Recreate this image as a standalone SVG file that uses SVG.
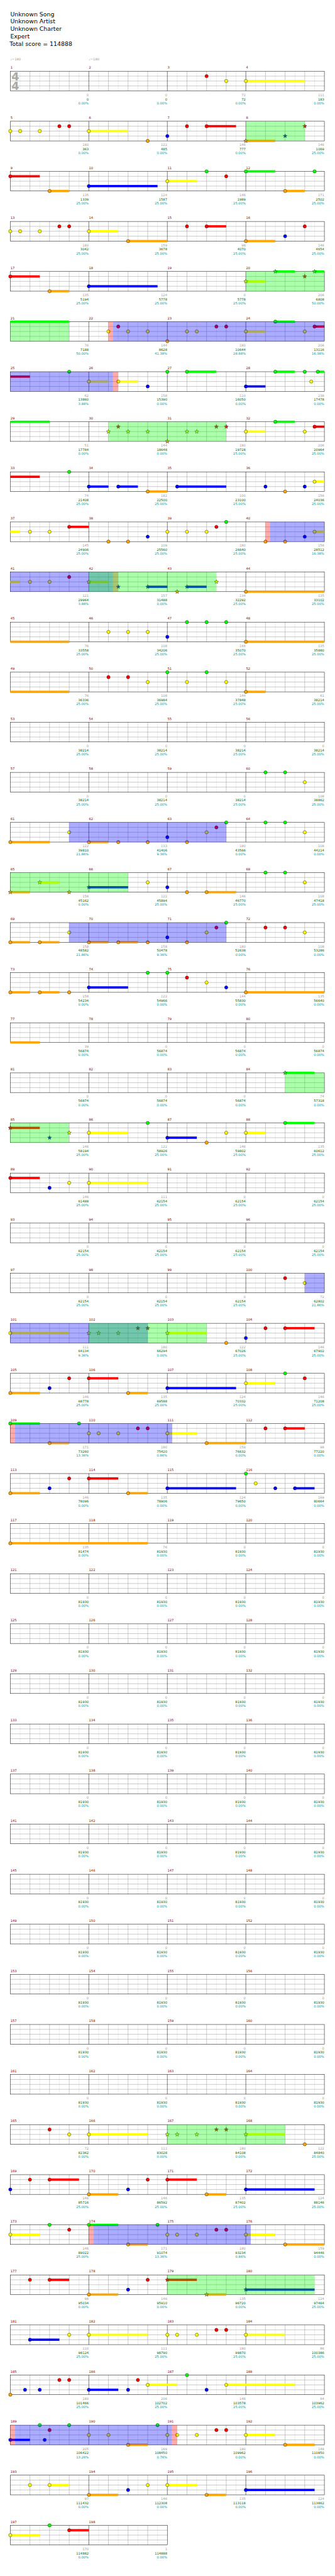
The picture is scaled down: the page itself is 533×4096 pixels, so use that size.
<svg xmlns="http://www.w3.org/2000/svg" width="533" height="4096" viewBox="0 0 533 4096">
<style>
text{font-family:"DejaVu Sans","Liberation Sans",sans-serif}
.hd{font-size:18px;fill:#000}
.lb{font-size:10px;fill:#8b0000}
.tp{font-size:10px;fill:#999}
.ts{font-size:34px;font-weight:bold;fill:#aaa}
.sc text{font-size:10px;text-anchor:end}
.a{fill:#999}.c{fill:#006400}.p{fill:#009999}
.l1{stroke:#ddd;fill:none}.l2{stroke:#999;fill:none}.l3{stroke:#000;fill:none}
.bd{fill:none;stroke:#000}
circle,.st{stroke:#000;stroke-width:.8}
.g{fill:#0f0}.r{fill:#f00}.y{fill:#ff0}.b{fill:#00f}.o{fill:#ffa500}
.sp{fill:#0f0;fill-opacity:.33}.ac{fill:#00f;fill-opacity:.33}.pk{fill:#f00;fill-opacity:.33}
</style>
<defs>
<path id="st" d="M0-6.5L1.53-2.1L6.18-2.01L2.47.8L3.82 5.26L0 2.6L-3.82 5.26L-2.47.8L-6.18-2.01L-1.53-2.1Z"/>
<g id="row">
<path class="l1" d="M30 0V60M90 0V60M150 0V60M210 0V60M270 0V60M330 0V60M390 0V60M450 0V60M510 0V60M570 0V60M630 0V60M690 0V60M750 0V60M810 0V60M870 0V60M930 0V60"/>
<path class="l2" d="M60 0V60M120 0V60M180 0V60M300 0V60M360 0V60M420 0V60M540 0V60M600 0V60M660 0V60M780 0V60M840 0V60M900 0V60M0 15H960M0 30H960M0 45H960"/>
<path class="l3" d="M240 0V60M480 0V60M720 0V60"/>
<rect class="bd" x="0" y="0" width="960" height="60"/>
</g>
<g id="row2">
<path class="l1" d="M30 0V60M90 0V60M150 0V60M210 0V60M270 0V60M330 0V60M390 0V60M450 0V60"/>
<path class="l2" d="M60 0V60M120 0V60M180 0V60M300 0V60M360 0V60M420 0V60M0 15H480M0 30H480M0 45H480"/>
<path class="l3" d="M240 0V60"/>
<rect class="bd" x="0" y="0" width="480" height="60"/>
</g>
<g id="z81930" class="sc">
<text class="a" x="239.5" y="76">0<tspan class="c" x="239.5" y="89">81930</tspan><tspan class="p" x="239.5" y="101">0.00%</tspan></text>
<text class="a" x="479.5" y="76">0<tspan class="c" x="479.5" y="89">81930</tspan><tspan class="p" x="479.5" y="101">0.00%</tspan></text>
<text class="a" x="719.5" y="76">0<tspan class="c" x="719.5" y="89">81930</tspan><tspan class="p" x="719.5" y="101">0.00%</tspan></text>
<text class="a" x="959.5" y="76">0<tspan class="c" x="959.5" y="89">81930</tspan><tspan class="p" x="959.5" y="101">0.00%</tspan></text>
</g>
</defs>
<rect width="533" height="4096" fill="#fff"/>
<g transform="scale(0.5205)">
<g id="header">
<text class="hd" x="31.5" y="49">Unknown Song</text>
<text class="hd" x="31.5" y="72">Unknown Artist</text>
<text class="hd" x="31.5" y="95">Unknown Charter</text>
<text class="hd" x="31.5" y="118">Expert</text>
<text class="hd" x="29.5" y="141">Total score = 114888</text>
</g>

<g id="r0" transform="translate(31.5,217.5)">
<use href="#row"/>
<text class="ts" x="3.5" y="27.5">4</text><text class="ts" x="3.5" y="57.5">4</text>
<text class="tp" y="-33"><tspan x="0">♩=180</tspan><tspan x="240">♩=180</tspan></text>
<text class="lb" y="-7.5"><tspan x="0.5">1</tspan><tspan x="240.5">2</tspan><tspan x="480.5">3</tspan><tspan x="720.5">4</tspan></text>
<rect class="y" x="720" y="26.5" width="180" height="7"/>
<circle class="r" cx="600" cy="15" r="5"/><circle class="y" cx="660" cy="30" r="5"/><circle class="y" cx="720" cy="30" r="5"/>
<g class="sc">
<text class="a" x="239.5" y="76">0<tspan class="c" x="239.5" y="89">0</tspan><tspan class="p" x="239.5" y="101">0.00%</tspan></text>
<text class="a" x="479.5" y="76">0<tspan class="c" x="479.5" y="89">0</tspan><tspan class="p" x="479.5" y="101">0.00%</tspan></text>
<text class="a" x="719.5" y="76">72<tspan class="c" x="719.5" y="89">72</tspan><tspan class="p" x="719.5" y="101">0.00%</tspan></text>
<text class="a" x="959.5" y="76">111<tspan class="c" x="959.5" y="89">183</tspan><tspan class="p" x="959.5" y="101">0.00%</tspan></text>
</g>
</g>

<g id="r1" transform="translate(31.5,370.5)">
<use href="#row"/>
<text class="lb" y="-7.5"><tspan x="0.5">5</tspan><tspan x="240.5">6</tspan><tspan x="480.5">7</tspan><tspan x="720.5">8</tspan></text>
<rect class="y" x="240" y="26.5" width="120" height="7"/><rect class="r" x="600" y="11.5" width="90" height="7"/><rect class="o" x="720" y="56.5" width="90" height="7"/>
<circle class="y" cx="0" cy="30" r="5"/><circle class="y" cx="30" cy="30" r="5"/><circle class="y" cx="90" cy="30" r="5"/><circle class="r" cx="150" cy="15" r="5"/><circle class="r" cx="180" cy="15" r="5"/><circle class="y" cx="240" cy="30" r="5"/><circle class="o" cx="420" cy="60" r="5"/><circle class="b" cx="480" cy="45" r="5"/><circle class="r" cx="540" cy="15" r="5"/><circle class="r" cx="600" cy="15" r="5"/>
<use href="#st" class="st o" x="720" y="60"/><use href="#st" class="st b" x="840" y="45"/><use href="#st" class="st r" x="900" y="15"/>
<rect class="sp" x="720" y="0" width="180" height="60"/>
<g class="sc">
<text class="a" x="239.5" y="76">180<tspan class="c" x="239.5" y="89">363</tspan><tspan class="p" x="239.5" y="101">0.00%</tspan></text>
<text class="a" x="479.5" y="76">122<tspan class="c" x="479.5" y="89">485</tspan><tspan class="p" x="479.5" y="101">0.00%</tspan></text>
<text class="a" x="719.5" y="76">146<tspan class="c" x="719.5" y="89">777</tspan><tspan class="p" x="719.5" y="101">0.00%</tspan></text>
<text class="a" x="959.5" y="76">146<tspan class="c" x="959.5" y="89">1069</tspan><tspan class="p" x="959.5" y="101">25.00%</tspan></text>
</g>
</g>

<g id="r2" transform="translate(31.5,523.5)">
<use href="#row"/>
<text class="lb" y="-7.5"><tspan x="0.5">9</tspan><tspan x="240.5">10</tspan><tspan x="480.5">11</tspan><tspan x="720.5">12</tspan></text>
<rect class="r" x="0" y="11.5" width="90" height="7"/><rect class="o" x="120" y="56.5" width="60" height="7"/><rect class="b" x="240" y="41.5" width="210" height="7"/><rect class="y" x="480" y="26.5" width="90" height="7"/><rect class="g" x="720" y="-3.5" width="90" height="7"/><rect class="o" x="840" y="56.5" width="60" height="7"/>
<circle class="r" cx="0" cy="15" r="5"/><circle class="o" cx="120" cy="60" r="5"/><circle class="b" cx="240" cy="45" r="5"/><circle class="y" cx="480" cy="30" r="5"/><circle class="g" cx="600" cy="0" r="5"/><circle class="r" cx="660" cy="15" r="5"/><circle class="g" cx="720" cy="0" r="5"/><circle class="o" cx="840" cy="60" r="5"/><circle class="g" cx="930" cy="0" r="5"/>
<g class="sc">
<text class="a" x="239.5" y="76">135<tspan class="c" x="239.5" y="89">1339</tspan><tspan class="p" x="239.5" y="101">25.00%</tspan></text>
<text class="a" x="479.5" y="76">124<tspan class="c" x="479.5" y="89">1587</tspan><tspan class="p" x="479.5" y="101">25.00%</tspan></text>
<text class="a" x="719.5" y="76">146<tspan class="c" x="719.5" y="89">1989</tspan><tspan class="p" x="719.5" y="101">25.00%</tspan></text>
<text class="a" x="959.5" y="76">171<tspan class="c" x="959.5" y="89">2502</tspan><tspan class="p" x="959.5" y="101">25.00%</tspan></text>
</g>
</g>

<g id="r3" transform="translate(31.5,676.5)">
<use href="#row"/>
<text class="lb" y="-7.5"><tspan x="0.5">13</tspan><tspan x="240.5">14</tspan><tspan x="480.5">15</tspan><tspan x="720.5">16</tspan></text>
<rect class="y" x="240" y="26.5" width="90" height="7"/><rect class="o" x="360" y="56.5" width="120" height="7"/><rect class="r" x="600" y="11.5" width="60" height="7"/><rect class="o" x="720" y="56.5" width="90" height="7"/>
<circle class="y" cx="0" cy="30" r="5"/><circle class="y" cx="30" cy="30" r="5"/><circle class="y" cx="90" cy="30" r="5"/><circle class="r" cx="150" cy="15" r="5"/><circle class="r" cx="180" cy="15" r="5"/><circle class="y" cx="240" cy="30" r="5"/><circle class="o" cx="360" cy="60" r="5"/><circle class="r" cx="540" cy="15" r="5"/><circle class="r" cx="600" cy="15" r="5"/><circle class="o" cx="720" cy="60" r="5"/><circle class="b" cx="840" cy="45" r="5"/><circle class="r" cx="900" cy="15" r="5"/>
<g class="sc">
<text class="a" x="239.5" y="76">180<tspan class="c" x="239.5" y="89">3042</tspan><tspan class="p" x="239.5" y="101">25.00%</tspan></text>
<text class="a" x="479.5" y="76">159<tspan class="c" x="479.5" y="89">3678</tspan><tspan class="p" x="479.5" y="101">25.00%</tspan></text>
<text class="a" x="719.5" y="76">98<tspan class="c" x="719.5" y="89">4070</tspan><tspan class="p" x="719.5" y="101">25.00%</tspan></text>
<text class="a" x="959.5" y="76">146<tspan class="c" x="959.5" y="89">4654</tspan><tspan class="p" x="959.5" y="101">25.00%</tspan></text>
</g>
</g>

<g id="r4" transform="translate(31.5,829.5)">
<use href="#row"/>
<text class="lb" y="-7.5"><tspan x="0.5">17</tspan><tspan x="240.5">18</tspan><tspan x="480.5">19</tspan><tspan x="720.5">20</tspan></text>
<rect class="r" x="0" y="11.5" width="90" height="7"/><rect class="o" x="120" y="56.5" width="60" height="7"/><rect class="b" x="240" y="41.5" width="210" height="7"/><rect class="y" x="720" y="26.5" width="60" height="7"/><rect class="g" x="810" y="-3.5" width="60" height="7"/><rect class="g" x="930" y="-3.5" width="30" height="7"/>
<circle class="r" cx="0" cy="15" r="5"/><circle class="o" cx="120" cy="60" r="5"/><circle class="b" cx="240" cy="45" r="5"/>
<use href="#st" class="st y" x="720" y="30"/><use href="#st" class="st g" x="810" y="0"/><use href="#st" class="st r" x="900" y="15"/><use href="#st" class="st g" x="930" y="0"/>
<rect class="sp" x="720" y="0" width="240" height="60"/>
<g class="sc">
<text class="a" x="239.5" y="76">135<tspan class="c" x="239.5" y="89">5194</tspan><tspan class="p" x="239.5" y="101">25.00%</tspan></text>
<text class="a" x="479.5" y="76">124<tspan class="c" x="479.5" y="89">5778</tspan><tspan class="p" x="479.5" y="101">25.00%</tspan></text>
<text class="a" x="719.5" y="76">0<tspan class="c" x="719.5" y="89">5778</tspan><tspan class="p" x="719.5" y="101">25.00%</tspan></text>
<text class="a" x="959.5" y="76">206<tspan class="c" x="959.5" y="89">6808</tspan><tspan class="p" x="959.5" y="101">50.00%</tspan></text>
</g>
</g>

<g id="r5" transform="translate(31.5,982.5)">
<use href="#row"/>
<text class="lb" y="-7.5"><tspan x="0.5">21</tspan><tspan x="240.5">22</tspan><tspan x="480.5">23</tspan><tspan x="720.5">24</tspan></text>
<rect class="g" x="0" y="-3.5" width="180" height="7"/><rect class="y" x="720" y="26.5" width="60" height="7"/><rect class="g" x="810" y="-3.5" width="60" height="7"/><rect class="r" x="930" y="11.5" width="30" height="7"/>
<circle class="y" cx="300" cy="30" r="5"/><circle class="r" cx="330" cy="15" r="5"/><circle class="y" cx="360" cy="30" r="5"/><circle class="y" cx="420" cy="30" r="5"/><circle class="o" cx="480" cy="60" r="5"/><circle class="y" cx="540" cy="30" r="5"/><circle class="y" cx="570" cy="30" r="5"/><circle class="r" cx="630" cy="15" r="5"/><circle class="r" cx="660" cy="15" r="5"/><circle class="y" cx="720" cy="30" r="5"/><circle class="g" cx="810" cy="0" r="5"/><circle class="y" cx="900" cy="30" r="5"/><circle class="r" cx="930" cy="15" r="5"/>
<rect class="sp" x="0" y="0" width="180" height="60"/><rect class="pk" x="300" y="0" width="14" height="60"/><rect class="ac" x="314" y="0" width="646" height="60"/>
<g class="sc">
<text class="a" x="239.5" y="76">76<tspan class="c" x="239.5" y="89">7188</tspan><tspan class="p" x="239.5" y="101">50.00%</tspan></text>
<text class="a" x="479.5" y="76">144<tspan class="c" x="479.5" y="89">8628</tspan><tspan class="p" x="479.5" y="101">41.38%</tspan></text>
<text class="a" x="719.5" y="76">180<tspan class="c" x="719.5" y="89">10644</tspan><tspan class="p" x="719.5" y="101">28.88%</tspan></text>
<text class="a" x="959.5" y="76">206<tspan class="c" x="959.5" y="89">13116</tspan><tspan class="p" x="959.5" y="101">16.38%</tspan></text>
</g>
</g>

<g id="r6" transform="translate(31.5,1135.5)">
<use href="#row"/>
<text class="lb" y="-7.5"><tspan x="0.5">25</tspan><tspan x="240.5">26</tspan><tspan x="480.5">27</tspan><tspan x="720.5">28</tspan></text>
<rect class="r" x="0" y="11.5" width="60" height="7"/><rect class="y" x="240" y="26.5" width="60" height="7"/><rect class="y" x="330" y="26.5" width="60" height="7"/><rect class="g" x="540" y="-3.5" width="90" height="7"/><rect class="b" x="720" y="41.5" width="60" height="7"/><rect class="g" x="810" y="-3.5" width="60" height="7"/><rect class="g" x="940" y="-3.5" width="20" height="7"/>
<circle class="g" cx="180" cy="0" r="5"/><circle class="y" cx="240" cy="30" r="5"/><circle class="y" cx="330" cy="30" r="5"/><circle class="b" cx="420" cy="45" r="5"/><circle class="g" cx="480" cy="0" r="5"/><circle class="g" cx="540" cy="0" r="5"/><circle class="b" cx="720" cy="45" r="5"/><circle class="g" cx="810" cy="0" r="5"/><circle class="g" cx="900" cy="0" r="5"/><circle class="y" cx="920" cy="30" r="5"/><circle class="g" cx="940" cy="0" r="5"/>
<rect class="ac" x="0" y="0" width="314" height="60"/><rect class="pk" x="314" y="0" width="16" height="60"/>
<g class="sc">
<text class="a" x="239.5" y="76">62<tspan class="c" x="239.5" y="89">13860</tspan><tspan class="p" x="239.5" y="101">3.88%</tspan></text>
<text class="a" x="479.5" y="76">158<tspan class="c" x="479.5" y="89">15390</tspan><tspan class="p" x="479.5" y="101">0.00%</tspan></text>
<text class="a" x="719.5" y="76">110<tspan class="c" x="719.5" y="89">16050</tspan><tspan class="p" x="719.5" y="101">0.00%</tspan></text>
<text class="a" x="959.5" y="76">238<tspan class="c" x="959.5" y="89">17478</tspan><tspan class="p" x="959.5" y="101">0.00%</tspan></text>
</g>
</g>

<g id="r7" transform="translate(31.5,1288.5)">
<use href="#row"/>
<text class="lb" y="-7.5"><tspan x="0.5">29</tspan><tspan x="240.5">30</tspan><tspan x="480.5">31</tspan><tspan x="720.5">32</tspan></text>
<rect class="g" x="0" y="-3.5" width="120" height="7"/><rect class="y" x="720" y="26.5" width="60" height="7"/><rect class="g" x="810" y="-3.5" width="60" height="7"/><rect class="r" x="930" y="11.5" width="30" height="7"/>
<use href="#st" class="st y" x="300" y="30"/><use href="#st" class="st r" x="330" y="15"/><use href="#st" class="st y" x="360" y="30"/><use href="#st" class="st y" x="420" y="30"/><use href="#st" class="st o" x="480" y="60"/><use href="#st" class="st y" x="540" y="30"/><use href="#st" class="st y" x="570" y="30"/><use href="#st" class="st r" x="630" y="15"/><use href="#st" class="st r" x="660" y="15"/>
<circle class="y" cx="720" cy="30" r="5"/><circle class="g" cx="810" cy="0" r="5"/><circle class="y" cx="900" cy="30" r="5"/><circle class="r" cx="930" cy="15" r="5"/>
<rect class="sp" x="300" y="0" width="360" height="60"/>
<g class="sc">
<text class="a" x="239.5" y="76">51<tspan class="c" x="239.5" y="89">17784</tspan><tspan class="p" x="239.5" y="101">0.00%</tspan></text>
<text class="a" x="479.5" y="76">144<tspan class="c" x="479.5" y="89">18648</tspan><tspan class="p" x="479.5" y="101">0.00%</tspan></text>
<text class="a" x="719.5" y="76">180<tspan class="c" x="719.5" y="89">19728</tspan><tspan class="p" x="719.5" y="101">25.00%</tspan></text>
<text class="a" x="959.5" y="76">206<tspan class="c" x="959.5" y="89">20964</tspan><tspan class="p" x="959.5" y="101">25.00%</tspan></text>
</g>
</g>

<g id="r8" transform="translate(31.5,1441.5)">
<use href="#row"/>
<text class="lb" y="-7.5"><tspan x="0.5">33</tspan><tspan x="240.5">34</tspan><tspan x="480.5">35</tspan><tspan x="720.5">36</tspan></text>
<rect class="r" x="0" y="11.5" width="90" height="7"/><rect class="b" x="240" y="41.5" width="60" height="7"/><rect class="b" x="330" y="41.5" width="60" height="7"/><rect class="o" x="420" y="56.5" width="60" height="7"/><rect class="b" x="510" y="41.5" width="150" height="7"/><rect class="y" x="930" y="26.5" width="30" height="7"/>
<circle class="g" cx="180" cy="0" r="5"/><circle class="b" cx="240" cy="45" r="5"/><circle class="b" cx="330" cy="45" r="5"/><circle class="o" cx="420" cy="60" r="5"/><circle class="b" cx="510" cy="45" r="5"/><circle class="b" cx="780" cy="45" r="5"/><circle class="o" cx="840" cy="60" r="5"/><circle class="b" cx="900" cy="45" r="5"/><circle class="y" cx="930" cy="30" r="5"/>
<g class="sc">
<text class="a" x="239.5" y="76">74<tspan class="c" x="239.5" y="89">21408</tspan><tspan class="p" x="239.5" y="101">25.00%</tspan></text>
<text class="a" x="479.5" y="76">182<tspan class="c" x="479.5" y="89">22500</tspan><tspan class="p" x="479.5" y="101">25.00%</tspan></text>
<text class="a" x="719.5" y="76">100<tspan class="c" x="719.5" y="89">23100</tspan><tspan class="p" x="719.5" y="101">25.00%</tspan></text>
<text class="a" x="959.5" y="76">156<tspan class="c" x="959.5" y="89">24036</tspan><tspan class="p" x="959.5" y="101">25.00%</tspan></text>
</g>
</g>

<g id="r9" transform="translate(31.5,1594.5)">
<use href="#row"/>
<text class="lb" y="-7.5"><tspan x="0.5">37</tspan><tspan x="240.5">38</tspan><tspan x="480.5">39</tspan><tspan x="720.5">40</tspan></text>
<rect class="y" x="0" y="26.5" width="30" height="7"/><rect class="r" x="180" y="11.5" width="60" height="7"/><rect class="y" x="930" y="26.5" width="30" height="7"/>
<circle class="y" cx="60" cy="30" r="5"/><circle class="y" cx="120" cy="30" r="5"/><circle class="r" cx="180" cy="15" r="5"/><circle class="o" cx="300" cy="60" r="5"/><circle class="o" cx="360" cy="60" r="5"/><circle class="b" cx="420" cy="45" r="5"/><circle class="y" cx="480" cy="30" r="5"/><circle class="y" cx="540" cy="30" r="5"/><circle class="y" cx="600" cy="30" r="5"/><circle class="r" cx="630" cy="15" r="5"/><circle class="g" cx="660" cy="0" r="5"/><circle class="o" cx="780" cy="60" r="5"/><circle class="o" cx="840" cy="60" r="5"/><circle class="b" cx="900" cy="45" r="5"/><circle class="y" cx="930" cy="30" r="5"/>
<rect class="pk" x="780" y="0" width="14" height="60"/><rect class="ac" x="794" y="0" width="166" height="60"/>
<g class="sc">
<text class="a" x="239.5" y="76">145<tspan class="c" x="239.5" y="89">24906</tspan><tspan class="p" x="239.5" y="101">25.00%</tspan></text>
<text class="a" x="479.5" y="76">109<tspan class="c" x="479.5" y="89">25560</tspan><tspan class="p" x="479.5" y="101">25.00%</tspan></text>
<text class="a" x="719.5" y="76">180<tspan class="c" x="719.5" y="89">26640</tspan><tspan class="p" x="719.5" y="101">25.00%</tspan></text>
<text class="a" x="959.5" y="76">156<tspan class="c" x="959.5" y="89">28512</tspan><tspan class="p" x="959.5" y="101">16.38%</tspan></text>
</g>
</g>

<g id="r10" transform="translate(31.5,1747.5)">
<use href="#row"/>
<text class="lb" y="-7.5"><tspan x="0.5">41</tspan><tspan x="240.5">42</tspan><tspan x="480.5">43</tspan><tspan x="720.5">44</tspan></text>
<rect class="y" x="0" y="26.5" width="30" height="7"/><rect class="y" x="240" y="26.5" width="60" height="7"/><rect class="b" x="420" y="41.5" width="60" height="7"/><rect class="b" x="540" y="41.5" width="60" height="7"/><rect class="o" x="720" y="56.5" width="240" height="7"/>
<circle class="y" cx="60" cy="30" r="5"/><circle class="y" cx="120" cy="30" r="5"/><circle class="r" cx="180" cy="15" r="5"/><circle class="o" cx="720" cy="60" r="5"/>
<use href="#st" class="st y" x="240" y="30"/><use href="#st" class="st b" x="330" y="45"/><use href="#st" class="st b" x="420" y="45"/><use href="#st" class="st o" x="510" y="60"/><use href="#st" class="st b" x="540" y="45"/><use href="#st" class="st y" x="630" y="30"/>
<rect class="ac" x="0" y="0" width="314" height="60"/><rect class="pk" x="314" y="0" width="16" height="60"/><rect class="sp" x="240" y="0" width="390" height="60"/>
<g class="sc">
<text class="a" x="239.5" y="76">121<tspan class="c" x="239.5" y="89">29964</tspan><tspan class="p" x="239.5" y="101">3.88%</tspan></text>
<text class="a" x="479.5" y="76">157<tspan class="c" x="479.5" y="89">31488</tspan><tspan class="p" x="479.5" y="101">0.00%</tspan></text>
<text class="a" x="719.5" y="76">134<tspan class="c" x="719.5" y="89">32292</tspan><tspan class="p" x="719.5" y="101">25.00%</tspan></text>
<text class="a" x="959.5" y="76">135<tspan class="c" x="959.5" y="89">33102</tspan><tspan class="p" x="959.5" y="101">25.00%</tspan></text>
</g>
</g>

<g id="r11" transform="translate(31.5,1900.5)">
<use href="#row"/>
<text class="lb" y="-7.5"><tspan x="0.5">45</tspan><tspan x="240.5">46</tspan><tspan x="480.5">47</tspan><tspan x="720.5">48</tspan></text>
<rect class="o" x="0" y="56.5" width="180" height="7"/><rect class="o" x="720" y="56.5" width="240" height="7"/>
<circle class="y" cx="300" cy="30" r="5"/><circle class="y" cx="360" cy="30" r="5"/><circle class="y" cx="420" cy="30" r="5"/><circle class="b" cx="480" cy="45" r="5"/><circle class="g" cx="540" cy="0" r="5"/><circle class="g" cx="600" cy="0" r="5"/><circle class="g" cx="660" cy="0" r="5"/><circle class="o" cx="720" cy="60" r="5"/>
<g class="sc">
<text class="a" x="239.5" y="76">76<tspan class="c" x="239.5" y="89">33558</tspan><tspan class="p" x="239.5" y="101">25.00%</tspan></text>
<text class="a" x="479.5" y="76">108<tspan class="c" x="479.5" y="89">34206</tspan><tspan class="p" x="479.5" y="101">25.00%</tspan></text>
<text class="a" x="719.5" y="76">144<tspan class="c" x="719.5" y="89">35070</tspan><tspan class="p" x="719.5" y="101">25.00%</tspan></text>
<text class="a" x="959.5" y="76">135<tspan class="c" x="959.5" y="89">35880</tspan><tspan class="p" x="959.5" y="101">25.00%</tspan></text>
</g>
</g>

<g id="r12" transform="translate(31.5,2053.5)">
<use href="#row"/>
<text class="lb" y="-7.5"><tspan x="0.5">49</tspan><tspan x="240.5">50</tspan><tspan x="480.5">51</tspan><tspan x="720.5">52</tspan></text>
<rect class="o" x="0" y="56.5" width="180" height="7"/><rect class="o" x="720" y="56.5" width="60" height="7"/>
<circle class="r" cx="300" cy="15" r="5"/><circle class="r" cx="360" cy="15" r="5"/><circle class="y" cx="420" cy="30" r="5"/><circle class="g" cx="480" cy="0" r="5"/><circle class="y" cx="540" cy="30" r="5"/><circle class="g" cx="600" cy="0" r="5"/><circle class="y" cx="660" cy="30" r="5"/><circle class="o" cx="720" cy="60" r="5"/>
<g class="sc">
<text class="a" x="239.5" y="76">76<tspan class="c" x="239.5" y="89">36336</tspan><tspan class="p" x="239.5" y="101">25.00%</tspan></text>
<text class="a" x="479.5" y="76">108<tspan class="c" x="479.5" y="89">36984</tspan><tspan class="p" x="479.5" y="101">25.00%</tspan></text>
<text class="a" x="719.5" y="76">144<tspan class="c" x="719.5" y="89">37848</tspan><tspan class="p" x="719.5" y="101">25.00%</tspan></text>
<text class="a" x="959.5" y="76">61<tspan class="c" x="959.5" y="89">38214</tspan><tspan class="p" x="959.5" y="101">25.00%</tspan></text>
</g>
</g>

<g id="r13" transform="translate(31.5,2206.5)">
<use href="#row"/>
<text class="lb" y="-7.5"><tspan x="0.5">53</tspan><tspan x="240.5">54</tspan><tspan x="480.5">55</tspan><tspan x="720.5">56</tspan></text>
<g class="sc">
<text class="a" x="239.5" y="76">0<tspan class="c" x="239.5" y="89">38214</tspan><tspan class="p" x="239.5" y="101">25.00%</tspan></text>
<text class="a" x="479.5" y="76">0<tspan class="c" x="479.5" y="89">38214</tspan><tspan class="p" x="479.5" y="101">25.00%</tspan></text>
<text class="a" x="719.5" y="76">0<tspan class="c" x="719.5" y="89">38214</tspan><tspan class="p" x="719.5" y="101">25.00%</tspan></text>
<text class="a" x="959.5" y="76">0<tspan class="c" x="959.5" y="89">38214</tspan><tspan class="p" x="959.5" y="101">25.00%</tspan></text>
</g>
</g>

<g id="r14" transform="translate(31.5,2359.5)">
<use href="#row"/>
<text class="lb" y="-7.5"><tspan x="0.5">57</tspan><tspan x="240.5">58</tspan><tspan x="480.5">59</tspan><tspan x="720.5">60</tspan></text>
<circle class="g" cx="780" cy="0" r="5"/><circle class="g" cx="840" cy="0" r="5"/><circle class="y" cx="900" cy="30" r="5"/>
<g class="sc">
<text class="a" x="239.5" y="76">0<tspan class="c" x="239.5" y="89">38214</tspan><tspan class="p" x="239.5" y="101">25.00%</tspan></text>
<text class="a" x="479.5" y="76">0<tspan class="c" x="479.5" y="89">38214</tspan><tspan class="p" x="479.5" y="101">25.00%</tspan></text>
<text class="a" x="719.5" y="76">0<tspan class="c" x="719.5" y="89">38214</tspan><tspan class="p" x="719.5" y="101">25.00%</tspan></text>
<text class="a" x="959.5" y="76">108<tspan class="c" x="959.5" y="89">38862</tspan><tspan class="p" x="959.5" y="101">25.00%</tspan></text>
</g>
</g>

<g id="r15" transform="translate(31.5,2512.5)">
<use href="#row"/>
<text class="lb" y="-7.5"><tspan x="0.5">61</tspan><tspan x="240.5">62</tspan><tspan x="480.5">63</tspan><tspan x="720.5">64</tspan></text>
<rect class="o" x="0" y="56.5" width="120" height="7"/><rect class="o" x="240" y="56.5" width="60" height="7"/>
<circle class="o" cx="0" cy="60" r="5"/><circle class="y" cx="180" cy="30" r="5"/><circle class="o" cx="240" cy="60" r="5"/><circle class="o" cx="330" cy="60" r="5"/><circle class="o" cx="420" cy="60" r="5"/><circle class="b" cx="480" cy="45" r="5"/><circle class="o" cx="540" cy="60" r="5"/><circle class="y" cx="600" cy="30" r="5"/><circle class="r" cx="630" cy="15" r="5"/><circle class="g" cx="660" cy="0" r="5"/><circle class="g" cx="780" cy="0" r="5"/><circle class="g" cx="840" cy="0" r="5"/><circle class="y" cx="900" cy="30" r="5"/>
<rect class="ac" x="180" y="0" width="480" height="60"/>
<g class="sc">
<text class="a" x="239.5" y="76">122<tspan class="c" x="239.5" y="89">39810</tspan><tspan class="p" x="239.5" y="101">21.86%</tspan></text>
<text class="a" x="479.5" y="76">133<tspan class="c" x="479.5" y="89">41406</tspan><tspan class="p" x="479.5" y="101">9.36%</tspan></text>
<text class="a" x="719.5" y="76">180<tspan class="c" x="719.5" y="89">43566</tspan><tspan class="p" x="719.5" y="101">0.00%</tspan></text>
<text class="a" x="959.5" y="76">108<tspan class="c" x="959.5" y="89">44214</tspan><tspan class="p" x="959.5" y="101">0.00%</tspan></text>
</g>
</g>

<g id="r16" transform="translate(31.5,2665.5)">
<use href="#row"/>
<text class="lb" y="-7.5"><tspan x="0.5">65</tspan><tspan x="240.5">66</tspan><tspan x="480.5">67</tspan><tspan x="720.5">68</tspan></text>
<rect class="o" x="0" y="56.5" width="60" height="7"/><rect class="y" x="90" y="26.5" width="60" height="7"/><rect class="b" x="240" y="41.5" width="120" height="7"/><rect class="o" x="600" y="56.5" width="90" height="7"/>
<use href="#st" class="st o" x="0" y="60"/><use href="#st" class="st y" x="90" y="30"/><use href="#st" class="st o" x="180" y="60"/><use href="#st" class="st b" x="240" y="45"/>
<circle class="y" cx="420" cy="30" r="5"/><circle class="b" cx="480" cy="45" r="5"/><circle class="o" cx="540" cy="60" r="5"/><circle class="o" cx="600" cy="60" r="5"/><circle class="g" cx="780" cy="0" r="5"/><circle class="g" cx="840" cy="0" r="5"/><circle class="y" cx="900" cy="30" r="5"/>
<rect class="sp" x="0" y="0" width="360" height="60"/>
<g class="sc">
<text class="a" x="239.5" y="76">158<tspan class="c" x="239.5" y="89">45162</tspan><tspan class="p" x="239.5" y="101">0.00%</tspan></text>
<text class="a" x="479.5" y="76">122<tspan class="c" x="479.5" y="89">45894</tspan><tspan class="p" x="479.5" y="101">25.00%</tspan></text>
<text class="a" x="719.5" y="76">146<tspan class="c" x="719.5" y="89">46770</tspan><tspan class="p" x="719.5" y="101">25.00%</tspan></text>
<text class="a" x="959.5" y="76">108<tspan class="c" x="959.5" y="89">47418</tspan><tspan class="p" x="959.5" y="101">25.00%</tspan></text>
</g>
</g>

<g id="r17" transform="translate(31.5,2818.5)">
<use href="#row"/>
<text class="lb" y="-7.5"><tspan x="0.5">69</tspan><tspan x="240.5">70</tspan><tspan x="480.5">71</tspan><tspan x="720.5">72</tspan></text>
<rect class="o" x="0" y="56.5" width="60" height="7"/><rect class="o" x="90" y="56.5" width="60" height="7"/><rect class="o" x="240" y="56.5" width="60" height="7"/><rect class="o" x="330" y="56.5" width="60" height="7"/>
<circle class="o" cx="0" cy="60" r="5"/><circle class="o" cx="90" cy="60" r="5"/><circle class="y" cx="180" cy="30" r="5"/><circle class="o" cx="240" cy="60" r="5"/><circle class="o" cx="330" cy="60" r="5"/><circle class="o" cx="420" cy="60" r="5"/><circle class="b" cx="480" cy="45" r="5"/><circle class="o" cx="540" cy="60" r="5"/><circle class="y" cx="600" cy="30" r="5"/><circle class="r" cx="630" cy="15" r="5"/><circle class="g" cx="660" cy="0" r="5"/><circle class="r" cx="780" cy="15" r="5"/><circle class="r" cx="840" cy="15" r="5"/><circle class="y" cx="900" cy="30" r="5"/>
<rect class="ac" x="180" y="0" width="480" height="60"/>
<g class="sc">
<text class="a" x="239.5" y="76">158<tspan class="c" x="239.5" y="89">48582</tspan><tspan class="p" x="239.5" y="101">21.86%</tspan></text>
<text class="a" x="479.5" y="76">158<tspan class="c" x="479.5" y="89">50478</tspan><tspan class="p" x="479.5" y="101">9.36%</tspan></text>
<text class="a" x="719.5" y="76">180<tspan class="c" x="719.5" y="89">52638</tspan><tspan class="p" x="719.5" y="101">0.00%</tspan></text>
<text class="a" x="959.5" y="76">108<tspan class="c" x="959.5" y="89">53286</tspan><tspan class="p" x="959.5" y="101">0.00%</tspan></text>
</g>
</g>

<g id="r18" transform="translate(31.5,2971.5)">
<use href="#row"/>
<text class="lb" y="-7.5"><tspan x="0.5">73</tspan><tspan x="240.5">74</tspan><tspan x="480.5">75</tspan><tspan x="720.5">76</tspan></text>
<rect class="o" x="0" y="56.5" width="60" height="7"/><rect class="o" x="90" y="56.5" width="60" height="7"/><rect class="b" x="240" y="41.5" width="120" height="7"/><rect class="o" x="720" y="56.5" width="240" height="7"/>
<circle class="o" cx="0" cy="60" r="5"/><circle class="o" cx="90" cy="60" r="5"/><circle class="o" cx="180" cy="60" r="5"/><circle class="b" cx="240" cy="45" r="5"/><circle class="g" cx="420" cy="0" r="5"/><circle class="g" cx="480" cy="0" r="5"/><circle class="r" cx="540" cy="15" r="5"/><circle class="y" cx="600" cy="30" r="5"/><circle class="b" cx="660" cy="45" r="5"/><circle class="o" cx="720" cy="60" r="5"/>
<g class="sc">
<text class="a" x="239.5" y="76">158<tspan class="c" x="239.5" y="89">54234</tspan><tspan class="p" x="239.5" y="101">0.00%</tspan></text>
<text class="a" x="479.5" y="76">122<tspan class="c" x="479.5" y="89">54966</tspan><tspan class="p" x="479.5" y="101">0.00%</tspan></text>
<text class="a" x="719.5" y="76">144<tspan class="c" x="719.5" y="89">55830</tspan><tspan class="p" x="719.5" y="101">0.00%</tspan></text>
<text class="a" x="959.5" y="76">135<tspan class="c" x="959.5" y="89">56640</tspan><tspan class="p" x="959.5" y="101">0.00%</tspan></text>
</g>
</g>

<g id="r19" transform="translate(31.5,3124.5)">
<use href="#row"/>
<text class="lb" y="-7.5"><tspan x="0.5">77</tspan><tspan x="240.5">78</tspan><tspan x="480.5">79</tspan><tspan x="720.5">80</tspan></text>
<rect class="o" x="0" y="56.5" width="90" height="7"/>
<g class="sc">
<text class="a" x="239.5" y="76">39<tspan class="c" x="239.5" y="89">56874</tspan><tspan class="p" x="239.5" y="101">0.00%</tspan></text>
<text class="a" x="479.5" y="76">0<tspan class="c" x="479.5" y="89">56874</tspan><tspan class="p" x="479.5" y="101">0.00%</tspan></text>
<text class="a" x="719.5" y="76">0<tspan class="c" x="719.5" y="89">56874</tspan><tspan class="p" x="719.5" y="101">0.00%</tspan></text>
<text class="a" x="959.5" y="76">0<tspan class="c" x="959.5" y="89">56874</tspan><tspan class="p" x="959.5" y="101">0.00%</tspan></text>
</g>
</g>

<g id="r20" transform="translate(31.5,3277.5)">
<use href="#row"/>
<text class="lb" y="-7.5"><tspan x="0.5">81</tspan><tspan x="240.5">82</tspan><tspan x="480.5">83</tspan><tspan x="720.5">84</tspan></text>
<rect class="g" x="840" y="-3.5" width="90" height="7"/>
<use href="#st" class="st g" x="840" y="0"/>
<rect class="sp" x="840" y="0" width="120" height="60"/>
<g class="sc">
<text class="a" x="239.5" y="76">0<tspan class="c" x="239.5" y="89">56874</tspan><tspan class="p" x="239.5" y="101">0.00%</tspan></text>
<text class="a" x="479.5" y="76">0<tspan class="c" x="479.5" y="89">56874</tspan><tspan class="p" x="479.5" y="101">0.00%</tspan></text>
<text class="a" x="719.5" y="76">0<tspan class="c" x="719.5" y="89">56874</tspan><tspan class="p" x="719.5" y="101">0.00%</tspan></text>
<text class="a" x="959.5" y="76">74<tspan class="c" x="959.5" y="89">57318</tspan><tspan class="p" x="959.5" y="101">0.00%</tspan></text>
</g>
</g>

<g id="r21" transform="translate(31.5,3430.5)">
<use href="#row"/>
<text class="lb" y="-7.5"><tspan x="0.5">85</tspan><tspan x="240.5">86</tspan><tspan x="480.5">87</tspan><tspan x="720.5">88</tspan></text>
<rect class="r" x="0" y="11.5" width="90" height="7"/><rect class="y" x="240" y="26.5" width="120" height="7"/><rect class="b" x="480" y="41.5" width="90" height="7"/><rect class="y" x="720" y="26.5" width="60" height="7"/><rect class="g" x="840" y="-3.5" width="90" height="7"/>
<use href="#st" class="st r" x="0" y="15"/><use href="#st" class="st b" x="120" y="45"/><use href="#st" class="st y" x="180" y="30"/>
<circle class="y" cx="240" cy="30" r="5"/><circle class="g" cx="420" cy="0" r="5"/><circle class="b" cx="480" cy="45" r="5"/><circle class="o" cx="600" cy="60" r="5"/><circle class="y" cx="660" cy="30" r="5"/><circle class="y" cx="720" cy="30" r="5"/><circle class="g" cx="840" cy="0" r="5"/>
<rect class="sp" x="0" y="0" width="180" height="60"/>
<g class="sc">
<text class="a" x="239.5" y="76">146<tspan class="c" x="239.5" y="89">58194</tspan><tspan class="p" x="239.5" y="101">25.00%</tspan></text>
<text class="a" x="479.5" y="76">122<tspan class="c" x="479.5" y="89">58926</tspan><tspan class="p" x="479.5" y="101">25.00%</tspan></text>
<text class="a" x="719.5" y="76">146<tspan class="c" x="719.5" y="89">59802</tspan><tspan class="p" x="719.5" y="101">25.00%</tspan></text>
<text class="a" x="959.5" y="76">135<tspan class="c" x="959.5" y="89">60612</tspan><tspan class="p" x="959.5" y="101">25.00%</tspan></text>
</g>
</g>

<g id="r22" transform="translate(31.5,3583.5)">
<use href="#row"/>
<text class="lb" y="-7.5"><tspan x="0.5">89</tspan><tspan x="240.5">90</tspan><tspan x="480.5">91</tspan><tspan x="720.5">92</tspan></text>
<rect class="r" x="0" y="11.5" width="90" height="7"/><rect class="y" x="240" y="26.5" width="180" height="7"/>
<circle class="r" cx="0" cy="15" r="5"/><circle class="b" cx="120" cy="45" r="5"/><circle class="y" cx="180" cy="30" r="5"/><circle class="y" cx="240" cy="30" r="5"/>
<g class="sc">
<text class="a" x="239.5" y="76">146<tspan class="c" x="239.5" y="89">61488</tspan><tspan class="p" x="239.5" y="101">25.00%</tspan></text>
<text class="a" x="479.5" y="76">111<tspan class="c" x="479.5" y="89">62154</tspan><tspan class="p" x="479.5" y="101">25.00%</tspan></text>
<text class="a" x="719.5" y="76">0<tspan class="c" x="719.5" y="89">62154</tspan><tspan class="p" x="719.5" y="101">25.00%</tspan></text>
<text class="a" x="959.5" y="76">0<tspan class="c" x="959.5" y="89">62154</tspan><tspan class="p" x="959.5" y="101">25.00%</tspan></text>
</g>
</g>

<g id="r23" transform="translate(31.5,3736.5)">
<use href="#row"/>
<text class="lb" y="-7.5"><tspan x="0.5">93</tspan><tspan x="240.5">94</tspan><tspan x="480.5">95</tspan><tspan x="720.5">96</tspan></text>
<g class="sc">
<text class="a" x="239.5" y="76">0<tspan class="c" x="239.5" y="89">62154</tspan><tspan class="p" x="239.5" y="101">25.00%</tspan></text>
<text class="a" x="479.5" y="76">0<tspan class="c" x="479.5" y="89">62154</tspan><tspan class="p" x="479.5" y="101">25.00%</tspan></text>
<text class="a" x="719.5" y="76">0<tspan class="c" x="719.5" y="89">62154</tspan><tspan class="p" x="719.5" y="101">25.00%</tspan></text>
<text class="a" x="959.5" y="76">0<tspan class="c" x="959.5" y="89">62154</tspan><tspan class="p" x="959.5" y="101">25.00%</tspan></text>
</g>
</g>

<g id="r24" transform="translate(31.5,3889.5)">
<use href="#row"/>
<text class="lb" y="-7.5"><tspan x="0.5">97</tspan><tspan x="240.5">98</tspan><tspan x="480.5">99</tspan><tspan x="720.5">100</tspan></text>
<circle class="r" cx="840" cy="15" r="5"/><circle class="y" cx="900" cy="30" r="5"/>
<rect class="ac" x="900" y="0" width="60" height="60"/>
<g class="sc">
<text class="a" x="239.5" y="76">0<tspan class="c" x="239.5" y="89">62154</tspan><tspan class="p" x="239.5" y="101">25.00%</tspan></text>
<text class="a" x="479.5" y="76">0<tspan class="c" x="479.5" y="89">62154</tspan><tspan class="p" x="479.5" y="101">25.00%</tspan></text>
<text class="a" x="719.5" y="76">0<tspan class="c" x="719.5" y="89">62154</tspan><tspan class="p" x="719.5" y="101">25.00%</tspan></text>
<text class="a" x="959.5" y="76">72<tspan class="c" x="959.5" y="89">62802</tspan><tspan class="p" x="959.5" y="101">21.86%</tspan></text>
</g>
</g>

<g id="r25" transform="translate(31.5,4042.5)">
<use href="#row"/>
<text class="lb" y="-7.5"><tspan x="0.5">101</tspan><tspan x="240.5">102</tspan><tspan x="480.5">103</tspan><tspan x="720.5">104</tspan></text>
<rect class="y" x="0" y="26.5" width="180" height="7"/><rect class="y" x="480" y="26.5" width="120" height="7"/><rect class="r" x="840" y="11.5" width="90" height="7"/>
<circle class="y" cx="0" cy="30" r="5"/><circle class="o" cx="660" cy="60" r="5"/><circle class="b" cx="720" cy="45" r="5"/><circle class="r" cx="780" cy="15" r="5"/><circle class="r" cx="840" cy="15" r="5"/>
<use href="#st" class="st y" x="240" y="30"/><use href="#st" class="st y" x="270" y="30"/><use href="#st" class="st y" x="330" y="30"/><use href="#st" class="st r" x="390" y="15"/><use href="#st" class="st r" x="420" y="15"/><use href="#st" class="st y" x="480" y="30"/>
<rect class="ac" x="0" y="0" width="420" height="60"/><rect class="sp" x="240" y="0" width="360" height="60"/>
<g class="sc">
<text class="a" x="239.5" y="76">111<tspan class="c" x="239.5" y="89">64134</tspan><tspan class="p" x="239.5" y="101">9.36%</tspan></text>
<text class="a" x="479.5" y="76">180<tspan class="c" x="479.5" y="89">66294</tspan><tspan class="p" x="479.5" y="101">0.00%</tspan></text>
<text class="a" x="719.5" y="76">122<tspan class="c" x="719.5" y="89">67026</tspan><tspan class="p" x="719.5" y="101">25.00%</tspan></text>
<text class="a" x="959.5" y="76">146<tspan class="c" x="959.5" y="89">67902</tspan><tspan class="p" x="959.5" y="101">25.00%</tspan></text>
</g>
</g>

<g id="r26" transform="translate(31.5,4195.5)">
<use href="#row"/>
<text class="lb" y="-7.5"><tspan x="0.5">105</tspan><tspan x="240.5">106</tspan><tspan x="480.5">107</tspan><tspan x="720.5">108</tspan></text>
<rect class="o" x="0" y="56.5" width="90" height="7"/><rect class="r" x="240" y="11.5" width="90" height="7"/><rect class="o" x="360" y="56.5" width="60" height="7"/><rect class="b" x="480" y="41.5" width="210" height="7"/><rect class="y" x="720" y="26.5" width="90" height="7"/>
<circle class="o" cx="0" cy="60" r="5"/><circle class="b" cx="120" cy="45" r="5"/><circle class="r" cx="180" cy="15" r="5"/><circle class="r" cx="240" cy="15" r="5"/><circle class="o" cx="360" cy="60" r="5"/><circle class="b" cx="480" cy="45" r="5"/><circle class="y" cx="720" cy="30" r="5"/><circle class="g" cx="840" cy="0" r="5"/><circle class="r" cx="900" cy="15" r="5"/>
<g class="sc">
<text class="a" x="239.5" y="76">146<tspan class="c" x="239.5" y="89">68778</tspan><tspan class="p" x="239.5" y="101">25.00%</tspan></text>
<text class="a" x="479.5" y="76">135<tspan class="c" x="479.5" y="89">69588</tspan><tspan class="p" x="479.5" y="101">25.00%</tspan></text>
<text class="a" x="719.5" y="76">124<tspan class="c" x="719.5" y="89">70332</tspan><tspan class="p" x="719.5" y="101">25.00%</tspan></text>
<text class="a" x="959.5" y="76">146<tspan class="c" x="959.5" y="89">71208</tspan><tspan class="p" x="959.5" y="101">25.00%</tspan></text>
</g>
</g>

<g id="r27" transform="translate(31.5,4348.5)">
<use href="#row"/>
<text class="lb" y="-7.5"><tspan x="0.5">109</tspan><tspan x="240.5">110</tspan><tspan x="480.5">111</tspan><tspan x="720.5">112</tspan></text>
<rect class="g" x="0" y="-3.5" width="90" height="7"/><rect class="o" x="120" y="56.5" width="60" height="7"/><rect class="y" x="480" y="26.5" width="90" height="7"/><rect class="o" x="600" y="56.5" width="120" height="7"/><rect class="r" x="840" y="11.5" width="60" height="7"/>
<circle class="g" cx="0" cy="0" r="5"/><circle class="o" cx="120" cy="60" r="5"/><circle class="g" cx="210" cy="0" r="5"/><circle class="y" cx="240" cy="30" r="5"/><circle class="y" cx="270" cy="30" r="5"/><circle class="y" cx="330" cy="30" r="5"/><circle class="r" cx="390" cy="15" r="5"/><circle class="r" cx="420" cy="15" r="5"/><circle class="y" cx="480" cy="30" r="5"/><circle class="o" cx="600" cy="60" r="5"/><circle class="r" cx="780" cy="15" r="5"/><circle class="r" cx="840" cy="15" r="5"/>
<rect class="pk" x="0" y="0" width="14" height="60"/><rect class="ac" x="14" y="0" width="481" height="60"/>
<g class="sc">
<text class="a" x="239.5" y="76">171<tspan class="c" x="239.5" y="89">73260</tspan><tspan class="p" x="239.5" y="101">13.36%</tspan></text>
<text class="a" x="479.5" y="76">180<tspan class="c" x="479.5" y="89">75420</tspan><tspan class="p" x="479.5" y="101">0.86%</tspan></text>
<text class="a" x="719.5" y="76">159<tspan class="c" x="719.5" y="89">76632</tspan><tspan class="p" x="719.5" y="101">0.00%</tspan></text>
<text class="a" x="959.5" y="76">98<tspan class="c" x="959.5" y="89">77220</tspan><tspan class="p" x="959.5" y="101">0.00%</tspan></text>
</g>
</g>

<g id="r28" transform="translate(31.5,4501.5)">
<use href="#row"/>
<text class="lb" y="-7.5"><tspan x="0.5">113</tspan><tspan x="240.5">114</tspan><tspan x="480.5">115</tspan><tspan x="720.5">116</tspan></text>
<rect class="o" x="0" y="56.5" width="90" height="7"/><rect class="r" x="240" y="11.5" width="90" height="7"/><rect class="o" x="360" y="56.5" width="60" height="7"/><rect class="b" x="480" y="41.5" width="210" height="7"/><rect class="b" x="870" y="41.5" width="60" height="7"/>
<circle class="o" cx="0" cy="60" r="5"/><circle class="b" cx="120" cy="45" r="5"/><circle class="r" cx="180" cy="15" r="5"/><circle class="r" cx="240" cy="15" r="5"/><circle class="o" cx="360" cy="60" r="5"/><circle class="b" cx="480" cy="45" r="5"/><circle class="g" cx="720" cy="0" r="5"/><circle class="y" cx="750" cy="30" r="5"/><circle class="b" cx="810" cy="45" r="5"/><circle class="b" cx="870" cy="45" r="5"/>
<g class="sc">
<text class="a" x="239.5" y="76">146<tspan class="c" x="239.5" y="89">78096</tspan><tspan class="p" x="239.5" y="101">0.00%</tspan></text>
<text class="a" x="479.5" y="76">135<tspan class="c" x="479.5" y="89">78906</tspan><tspan class="p" x="479.5" y="101">0.00%</tspan></text>
<text class="a" x="719.5" y="76">124<tspan class="c" x="719.5" y="89">79650</tspan><tspan class="p" x="719.5" y="101">0.00%</tspan></text>
<text class="a" x="959.5" y="76">169<tspan class="c" x="959.5" y="89">80664</tspan><tspan class="p" x="959.5" y="101">0.00%</tspan></text>
</g>
</g>

<g id="r29" transform="translate(31.5,4654.5)">
<use href="#row"/>
<text class="lb" y="-7.5"><tspan x="0.5">117</tspan><tspan x="240.5">118</tspan><tspan x="480.5">119</tspan><tspan x="720.5">120</tspan></text>
<rect class="o" x="0" y="56.5" width="420" height="7"/>
<circle class="o" cx="0" cy="60" r="5"/>
<g class="sc">
<text class="a" x="239.5" y="76">135<tspan class="c" x="239.5" y="89">81474</tspan><tspan class="p" x="239.5" y="101">0.00%</tspan></text>
<text class="a" x="479.5" y="76">76<tspan class="c" x="479.5" y="89">81930</tspan><tspan class="p" x="479.5" y="101">0.00%</tspan></text>
<text class="a" x="719.5" y="76">0<tspan class="c" x="719.5" y="89">81930</tspan><tspan class="p" x="719.5" y="101">0.00%</tspan></text>
<text class="a" x="959.5" y="76">0<tspan class="c" x="959.5" y="89">81930</tspan><tspan class="p" x="959.5" y="101">0.00%</tspan></text>
</g>
</g>

<g id="r30" transform="translate(31.5,4807.5)"><use href="#row"/><use href="#z81930"/><text class="lb" y="-7.5"><tspan x="0.5">121</tspan><tspan x="240.5">122</tspan><tspan x="480.5">123</tspan><tspan x="720.5">124</tspan></text></g>
<g id="r31" transform="translate(31.5,4960.5)"><use href="#row"/><use href="#z81930"/><text class="lb" y="-7.5"><tspan x="0.5">125</tspan><tspan x="240.5">126</tspan><tspan x="480.5">127</tspan><tspan x="720.5">128</tspan></text></g>
<g id="r32" transform="translate(31.5,5113.5)"><use href="#row"/><use href="#z81930"/><text class="lb" y="-7.5"><tspan x="0.5">129</tspan><tspan x="240.5">130</tspan><tspan x="480.5">131</tspan><tspan x="720.5">132</tspan></text></g>
<g id="r33" transform="translate(31.5,5266.5)"><use href="#row"/><use href="#z81930"/><text class="lb" y="-7.5"><tspan x="0.5">133</tspan><tspan x="240.5">134</tspan><tspan x="480.5">135</tspan><tspan x="720.5">136</tspan></text></g>
<g id="r34" transform="translate(31.5,5419.5)"><use href="#row"/><use href="#z81930"/><text class="lb" y="-7.5"><tspan x="0.5">137</tspan><tspan x="240.5">138</tspan><tspan x="480.5">139</tspan><tspan x="720.5">140</tspan></text></g>
<g id="r35" transform="translate(31.5,5572.5)"><use href="#row"/><use href="#z81930"/><text class="lb" y="-7.5"><tspan x="0.5">141</tspan><tspan x="240.5">142</tspan><tspan x="480.5">143</tspan><tspan x="720.5">144</tspan></text></g>
<g id="r36" transform="translate(31.5,5725.5)"><use href="#row"/><use href="#z81930"/><text class="lb" y="-7.5"><tspan x="0.5">145</tspan><tspan x="240.5">146</tspan><tspan x="480.5">147</tspan><tspan x="720.5">148</tspan></text></g>
<g id="r37" transform="translate(31.5,5878.5)"><use href="#row"/><use href="#z81930"/><text class="lb" y="-7.5"><tspan x="0.5">149</tspan><tspan x="240.5">150</tspan><tspan x="480.5">151</tspan><tspan x="720.5">152</tspan></text></g>
<g id="r38" transform="translate(31.5,6031.5)"><use href="#row"/><use href="#z81930"/><text class="lb" y="-7.5"><tspan x="0.5">153</tspan><tspan x="240.5">154</tspan><tspan x="480.5">155</tspan><tspan x="720.5">156</tspan></text></g>
<g id="r39" transform="translate(31.5,6184.5)"><use href="#row"/><use href="#z81930"/><text class="lb" y="-7.5"><tspan x="0.5">157</tspan><tspan x="240.5">158</tspan><tspan x="480.5">159</tspan><tspan x="720.5">160</tspan></text></g>
<g id="r40" transform="translate(31.5,6337.5)"><use href="#row"/><use href="#z81930"/><text class="lb" y="-7.5"><tspan x="0.5">161</tspan><tspan x="240.5">162</tspan><tspan x="480.5">163</tspan><tspan x="720.5">164</tspan></text></g>

<g id="r41" transform="translate(31.5,6490.5)">
<use href="#row"/>
<text class="lb" y="-7.5"><tspan x="0.5">165</tspan><tspan x="240.5">166</tspan><tspan x="480.5">167</tspan><tspan x="720.5">168</tspan></text>
<rect class="y" x="240" y="26.5" width="180" height="7"/><rect class="y" x="720" y="26.5" width="120" height="7"/>
<circle class="r" cx="120" cy="15" r="5"/><circle class="y" cx="180" cy="30" r="5"/><circle class="y" cx="240" cy="30" r="5"/><circle class="o" cx="900" cy="60" r="5"/>
<use href="#st" class="st y" x="480" y="30"/><use href="#st" class="st y" x="510" y="30"/><use href="#st" class="st y" x="570" y="30"/><use href="#st" class="st r" x="630" y="15"/><use href="#st" class="st r" x="660" y="15"/><use href="#st" class="st y" x="720" y="30"/>
<rect class="sp" x="480" y="0" width="360" height="60"/>
<g class="sc">
<text class="a" x="239.5" y="76">72<tspan class="c" x="239.5" y="89">82362</tspan><tspan class="p" x="239.5" y="101">0.00%</tspan></text>
<text class="a" x="479.5" y="76">111<tspan class="c" x="479.5" y="89">83028</tspan><tspan class="p" x="479.5" y="101">0.00%</tspan></text>
<text class="a" x="719.5" y="76">180<tspan class="c" x="719.5" y="89">84108</tspan><tspan class="p" x="719.5" y="101">0.00%</tspan></text>
<text class="a" x="959.5" y="76">122<tspan class="c" x="959.5" y="89">84840</tspan><tspan class="p" x="959.5" y="101">25.00%</tspan></text>
</g>
</g>

<g id="r42" transform="translate(31.5,6643.5)">
<use href="#row"/>
<text class="lb" y="-7.5"><tspan x="0.5">169</tspan><tspan x="240.5">170</tspan><tspan x="480.5">171</tspan><tspan x="720.5">172</tspan></text>
<rect class="r" x="120" y="11.5" width="90" height="7"/><rect class="o" x="240" y="56.5" width="90" height="7"/><rect class="r" x="480" y="11.5" width="90" height="7"/><rect class="o" x="600" y="56.5" width="60" height="7"/><rect class="b" x="720" y="41.5" width="210" height="7"/>
<circle class="b" cx="0" cy="45" r="5"/><circle class="r" cx="60" cy="15" r="5"/><circle class="r" cx="120" cy="15" r="5"/><circle class="o" cx="240" cy="60" r="5"/><circle class="b" cx="360" cy="45" r="5"/><circle class="r" cx="420" cy="15" r="5"/><circle class="r" cx="480" cy="15" r="5"/><circle class="o" cx="600" cy="60" r="5"/><circle class="b" cx="720" cy="45" r="5"/>
<g class="sc">
<text class="a" x="239.5" y="76">146<tspan class="c" x="239.5" y="89">85716</tspan><tspan class="p" x="239.5" y="101">25.00%</tspan></text>
<text class="a" x="479.5" y="76">146<tspan class="c" x="479.5" y="89">86592</tspan><tspan class="p" x="479.5" y="101">25.00%</tspan></text>
<text class="a" x="719.5" y="76">135<tspan class="c" x="719.5" y="89">87402</tspan><tspan class="p" x="719.5" y="101">25.00%</tspan></text>
<text class="a" x="959.5" y="76">124<tspan class="c" x="959.5" y="89">88146</tspan><tspan class="p" x="959.5" y="101">25.00%</tspan></text>
</g>
</g>

<g id="r43" transform="translate(31.5,6796.5)">
<use href="#row"/>
<text class="lb" y="-7.5"><tspan x="0.5">173</tspan><tspan x="240.5">174</tspan><tspan x="480.5">175</tspan><tspan x="720.5">176</tspan></text>
<rect class="y" x="0" y="26.5" width="90" height="7"/><rect class="g" x="240" y="-3.5" width="90" height="7"/><rect class="o" x="360" y="56.5" width="60" height="7"/><rect class="y" x="720" y="26.5" width="90" height="7"/><rect class="o" x="840" y="56.5" width="120" height="7"/>
<circle class="y" cx="0" cy="30" r="5"/><circle class="g" cx="120" cy="0" r="5"/><circle class="r" cx="180" cy="15" r="5"/><circle class="g" cx="240" cy="0" r="5"/><circle class="o" cx="360" cy="60" r="5"/><circle class="g" cx="450" cy="0" r="5"/><circle class="y" cx="480" cy="30" r="5"/><circle class="y" cx="510" cy="30" r="5"/><circle class="y" cx="570" cy="30" r="5"/><circle class="r" cx="630" cy="15" r="5"/><circle class="r" cx="660" cy="15" r="5"/><circle class="y" cx="720" cy="30" r="5"/><circle class="o" cx="840" cy="60" r="5"/>
<rect class="pk" x="240" y="0" width="14" height="60"/><rect class="ac" x="254" y="0" width="481" height="60"/>
<g class="sc">
<text class="a" x="239.5" y="76">146<tspan class="c" x="239.5" y="89">89022</tspan><tspan class="p" x="239.5" y="101">25.00%</tspan></text>
<text class="a" x="479.5" y="76">171<tspan class="c" x="479.5" y="89">91074</tspan><tspan class="p" x="479.5" y="101">13.36%</tspan></text>
<text class="a" x="719.5" y="76">180<tspan class="c" x="719.5" y="89">93234</tspan><tspan class="p" x="719.5" y="101">0.86%</tspan></text>
<text class="a" x="959.5" y="76">159<tspan class="c" x="959.5" y="89">94446</tspan><tspan class="p" x="959.5" y="101">0.00%</tspan></text>
</g>
</g>

<g id="r44" transform="translate(31.5,6949.5)">
<use href="#row"/>
<text class="lb" y="-7.5"><tspan x="0.5">177</tspan><tspan x="240.5">178</tspan><tspan x="480.5">179</tspan><tspan x="720.5">180</tspan></text>
<rect class="r" x="120" y="11.5" width="60" height="7"/><rect class="o" x="240" y="56.5" width="90" height="7"/><rect class="r" x="480" y="11.5" width="90" height="7"/><rect class="o" x="600" y="56.5" width="60" height="7"/><rect class="b" x="720" y="41.5" width="210" height="7"/>
<circle class="r" cx="60" cy="15" r="5"/><circle class="r" cx="120" cy="15" r="5"/><circle class="o" cx="240" cy="60" r="5"/><circle class="b" cx="360" cy="45" r="5"/><circle class="r" cx="420" cy="15" r="5"/>
<use href="#st" class="st r" x="480" y="15"/><use href="#st" class="st o" x="600" y="60"/><use href="#st" class="st b" x="720" y="45"/>
<rect class="sp" x="480" y="0" width="450" height="60"/>
<g class="sc">
<text class="a" x="239.5" y="76">98<tspan class="c" x="239.5" y="89">95034</tspan><tspan class="p" x="239.5" y="101">0.00%</tspan></text>
<text class="a" x="479.5" y="76">146<tspan class="c" x="479.5" y="89">95910</tspan><tspan class="p" x="479.5" y="101">0.00%</tspan></text>
<text class="a" x="719.5" y="76">135<tspan class="c" x="719.5" y="89">96720</tspan><tspan class="p" x="719.5" y="101">0.00%</tspan></text>
<text class="a" x="959.5" y="76">124<tspan class="c" x="959.5" y="89">97464</tspan><tspan class="p" x="959.5" y="101">25.00%</tspan></text>
</g>
</g>

<g id="r45" transform="translate(31.5,7102.5)">
<use href="#row"/>
<text class="lb" y="-7.5"><tspan x="0.5">181</tspan><tspan x="240.5">182</tspan><tspan x="480.5">183</tspan><tspan x="720.5">184</tspan></text>
<rect class="b" x="60" y="41.5" width="90" height="7"/><rect class="y" x="240" y="26.5" width="180" height="7"/><rect class="y" x="720" y="26.5" width="120" height="7"/>
<circle class="b" cx="60" cy="45" r="5"/><circle class="y" cx="180" cy="30" r="5"/><circle class="y" cx="240" cy="30" r="5"/><circle class="y" cx="480" cy="30" r="5"/><circle class="y" cx="510" cy="30" r="5"/><circle class="y" cx="570" cy="30" r="5"/><circle class="r" cx="630" cy="15" r="5"/><circle class="r" cx="660" cy="15" r="5"/><circle class="y" cx="720" cy="30" r="5"/>
<g class="sc">
<text class="a" x="239.5" y="76">110<tspan class="c" x="239.5" y="89">98124</tspan><tspan class="p" x="239.5" y="101">25.00%</tspan></text>
<text class="a" x="479.5" y="76">111<tspan class="c" x="479.5" y="89">98790</tspan><tspan class="p" x="479.5" y="101">25.00%</tspan></text>
<text class="a" x="719.5" y="76">180<tspan class="c" x="719.5" y="89">99870</tspan><tspan class="p" x="719.5" y="101">25.00%</tspan></text>
<text class="a" x="959.5" y="76">86<tspan class="c" x="959.5" y="89">100386</tspan><tspan class="p" x="959.5" y="101">25.00%</tspan></text>
</g>
</g>

<g id="r46" transform="translate(31.5,7255.5)">
<use href="#row"/>
<text class="lb" y="-7.5"><tspan x="0.5">185</tspan><tspan x="240.5">186</tspan><tspan x="480.5">187</tspan><tspan x="720.5">188</tspan></text>
<rect class="b" x="240" y="41.5" width="90" height="7"/><rect class="y" x="420" y="26.5" width="90" height="7"/><rect class="y" x="660" y="26.5" width="210" height="7"/>
<circle class="o" cx="0" cy="60" r="5"/><circle class="b" cx="45" cy="45" r="5"/><circle class="b" cx="90" cy="45" r="5"/><circle class="r" cx="150" cy="15" r="5"/><circle class="r" cx="180" cy="15" r="5"/><circle class="b" cx="240" cy="45" r="5"/><circle class="b" cx="360" cy="45" r="5"/><circle class="r" cx="390" cy="15" r="5"/><circle class="y" cx="420" cy="30" r="5"/><circle class="g" cx="540" cy="0" r="5"/><circle class="b" cx="600" cy="45" r="5"/><circle class="y" cx="660" cy="30" r="5"/>
<g class="sc">
<text class="a" x="239.5" y="76">180<tspan class="c" x="239.5" y="89">101466</tspan><tspan class="p" x="239.5" y="101">25.00%</tspan></text>
<text class="a" x="479.5" y="76">206<tspan class="c" x="479.5" y="89">102702</tspan><tspan class="p" x="479.5" y="101">25.00%</tspan></text>
<text class="a" x="719.5" y="76">146<tspan class="c" x="719.5" y="89">103578</tspan><tspan class="p" x="719.5" y="101">25.00%</tspan></text>
<text class="a" x="959.5" y="76">64<tspan class="c" x="959.5" y="89">103962</tspan><tspan class="p" x="959.5" y="101">25.00%</tspan></text>
</g>
</g>

<g id="r47" transform="translate(31.5,7408.5)">
<use href="#row"/>
<text class="lb" y="-7.5"><tspan x="0.5">189</tspan><tspan x="240.5">190</tspan><tspan x="480.5">191</tspan><tspan x="720.5">192</tspan></text>
<rect class="b" x="0" y="41.5" width="60" height="7"/><rect class="o" x="360" y="56.5" width="60" height="7"/><rect class="y" x="720" y="26.5" width="90" height="7"/><rect class="o" x="840" y="56.5" width="90" height="7"/>
<circle class="b" cx="0" cy="45" r="5"/><circle class="g" cx="90" cy="0" r="5"/><circle class="b" cx="105" cy="45" r="5"/><circle class="r" cx="120" cy="15" r="5"/><circle class="g" cx="180" cy="0" r="5"/><circle class="y" cx="240" cy="30" r="5"/><circle class="y" cx="300" cy="30" r="5"/><circle class="o" cx="360" cy="60" r="5"/><circle class="g" cx="450" cy="0" r="5"/><circle class="y" cx="480" cy="30" r="5"/><circle class="y" cx="510" cy="30" r="5"/><circle class="y" cx="570" cy="30" r="5"/><circle class="r" cx="630" cy="15" r="5"/><circle class="r" cx="660" cy="15" r="5"/><circle class="y" cx="720" cy="30" r="5"/><circle class="o" cx="840" cy="60" r="5"/>
<rect class="pk" x="0" y="0" width="14" height="60"/><rect class="ac" x="14" y="0" width="480" height="60"/><rect class="pk" x="494" y="0" width="16" height="60"/>
<g class="sc">
<text class="a" x="239.5" y="76">205<tspan class="c" x="239.5" y="89">106422</tspan><tspan class="p" x="239.5" y="101">13.26%</tspan></text>
<text class="a" x="479.5" y="76">169<tspan class="c" x="479.5" y="89">108450</tspan><tspan class="p" x="479.5" y="101">0.76%</tspan></text>
<text class="a" x="719.5" y="76">180<tspan class="c" x="719.5" y="89">109962</tspan><tspan class="p" x="719.5" y="101">0.00%</tspan></text>
<text class="a" x="959.5" y="76">148<tspan class="c" x="959.5" y="89">110850</tspan><tspan class="p" x="959.5" y="101">0.00%</tspan></text>
</g>
</g>

<g id="r48" transform="translate(31.5,7561.5)">
<use href="#row"/>
<text class="lb" y="-7.5"><tspan x="0.5">193</tspan><tspan x="240.5">194</tspan><tspan x="480.5">195</tspan><tspan x="720.5">196</tspan></text>
<rect class="y" x="120" y="26.5" width="60" height="7"/><rect class="o" x="240" y="56.5" width="90" height="7"/><rect class="y" x="480" y="26.5" width="90" height="7"/><rect class="o" x="600" y="56.5" width="60" height="7"/><rect class="b" x="720" y="41.5" width="210" height="7"/>
<circle class="y" cx="60" cy="30" r="5"/><circle class="y" cx="120" cy="30" r="5"/><circle class="o" cx="240" cy="60" r="5"/><circle class="b" cx="360" cy="45" r="5"/><circle class="y" cx="420" cy="30" r="5"/><circle class="y" cx="480" cy="30" r="5"/><circle class="o" cx="600" cy="60" r="5"/><circle class="b" cx="720" cy="45" r="5"/>
<g class="sc">
<text class="a" x="239.5" y="76">97<tspan class="c" x="239.5" y="89">111432</tspan><tspan class="p" x="239.5" y="101">0.00%</tspan></text>
<text class="a" x="479.5" y="76">146<tspan class="c" x="479.5" y="89">112308</tspan><tspan class="p" x="479.5" y="101">0.00%</tspan></text>
<text class="a" x="719.5" y="76">135<tspan class="c" x="719.5" y="89">113118</tspan><tspan class="p" x="719.5" y="101">0.00%</tspan></text>
<text class="a" x="959.5" y="76">124<tspan class="c" x="959.5" y="89">113862</tspan><tspan class="p" x="959.5" y="101">0.00%</tspan></text>
</g>
</g>

<g id="r49" transform="translate(31.5,7714.5)">
<use href="#row2"/>
<text class="lb" y="-7.5"><tspan x="0.5">197</tspan><tspan x="240.5">198</tspan></text>
<rect class="y" x="0" y="26.5" width="90" height="7"/><rect class="r" x="180" y="11.5" width="60" height="7"/>
<circle class="y" cx="0" cy="30" r="5"/><circle class="g" cx="120" cy="0" r="5"/><circle class="r" cx="180" cy="15" r="5"/>
<g class="sc">
<text class="a" x="239.5" y="76">170<tspan class="c" x="239.5" y="89">114882</tspan><tspan class="p" x="239.5" y="101">0.00%</tspan></text>
<text class="a" x="479.5" y="76">1<tspan class="c" x="479.5" y="89">114888</tspan><tspan class="p" x="479.5" y="101">0.00%</tspan></text>
</g>
</g>
</g>
</svg>
